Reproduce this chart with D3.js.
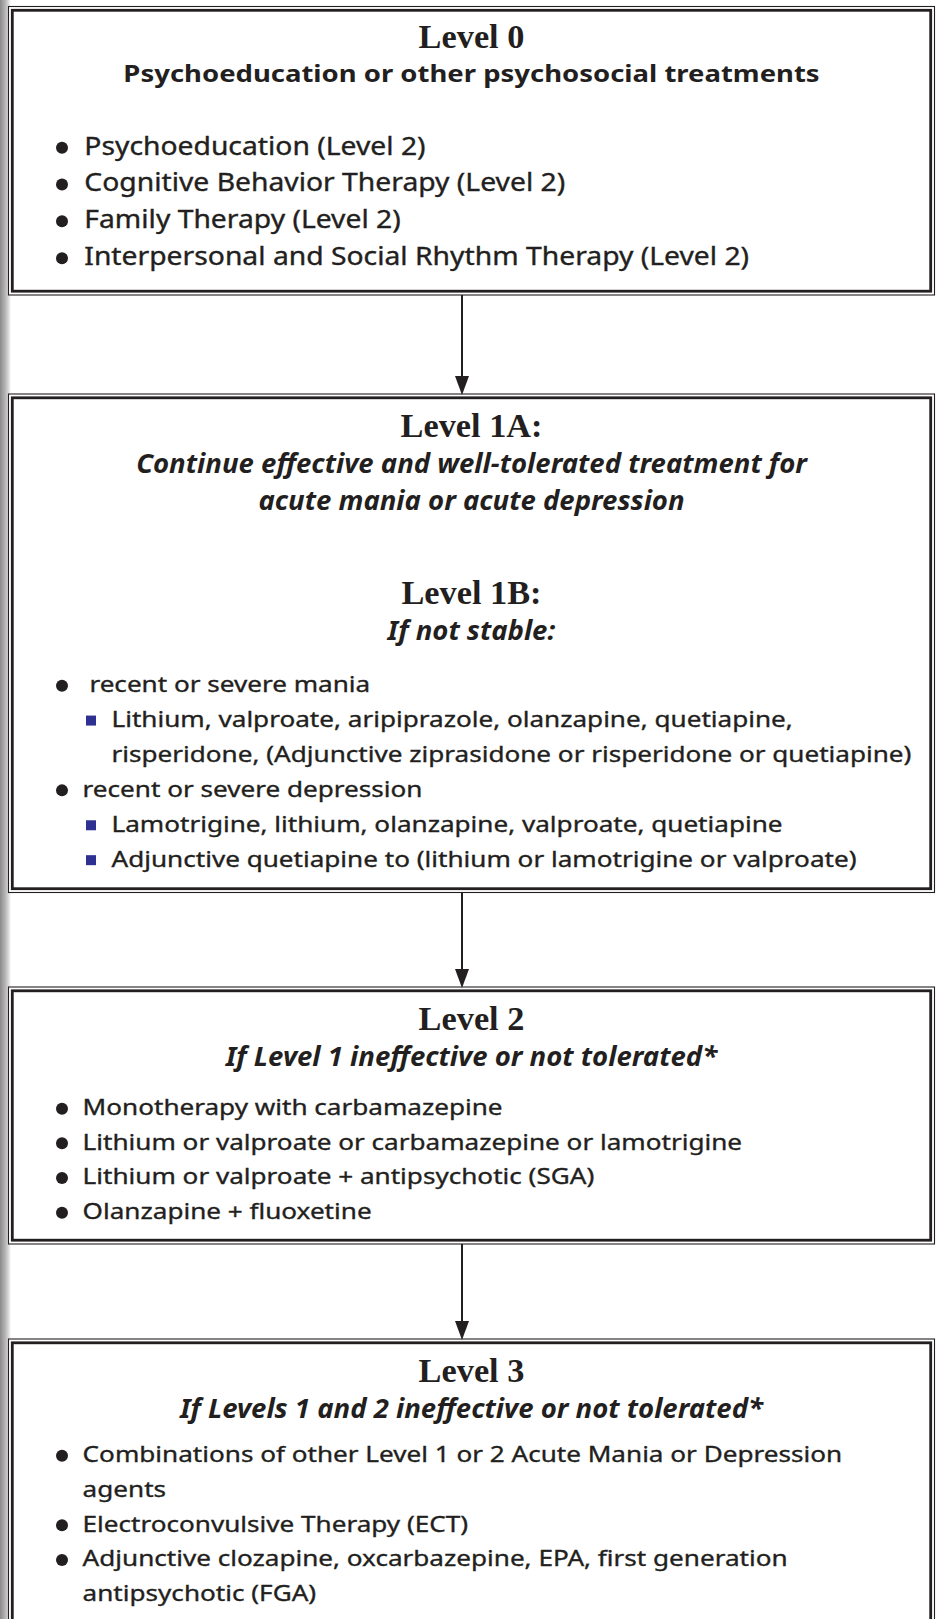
<!DOCTYPE html>
<html><head><meta charset="utf-8">
<script src="https://cdn.jsdelivr.net/npm/d3@7"></script>
<style>html,body{margin:0;padding:0;background:#fff;}svg{display:block;}text{white-space:pre;}</style>
</head><body>
<svg id="chart" width="936" height="1619"></svg>
<script>
// ---------- DATA ----------
const levelTitles = ["Level 0", "Level 1A:", "Level 1B:", "Level 2", "Level 3"];
const level0Subtitle = ["Psychoeducation or other psychosocial treatments"];
const level1ASubtitle = ["Continue effective and well-tolerated treatment for", "acute mania or acute depression"];
const level1BSubtitle = ["If not stable:"];
const level2Subtitle = ["If Level 1 ineffective or not tolerated*"];
const level3Subtitle = ["If Levels 1 and 2 ineffective or not tolerated*"];

const level0Items = ["Psychoeducation (Level 2)", "Cognitive Behavior Therapy (Level 2)", "Family Therapy (Level 2)", "Interpersonal and Social Rhythm Therapy (Level 2)"];
const level0Markers = ["dot", "dot", "dot", "dot"];

const level1Items = [" recent or severe mania",
  "Lithium, valproate, aripiprazole, olanzapine, quetiapine,",
  "risperidone, (Adjunctive ziprasidone or risperidone or quetiapine)",
  "recent or severe depression",
  "Lamotrigine, lithium, olanzapine, valproate, quetiapine",
  "Adjunctive quetiapine to (lithium or lamotrigine or valproate)"];
const level1Markers = ["dot", "square", "none2", "dot", "square", "square"];

const level2Items = ["Monotherapy with carbamazepine", "Lithium or valproate or carbamazepine or lamotrigine", "Lithium or valproate + antipsychotic (SGA)", "Olanzapine + ﬂuoxetine"];
const level2Markers = ["dot", "dot", "dot", "dot"];

const level3Items = ["Combinations of other Level 1 or 2 Acute Mania or Depression", "agents", "Electroconvulsive Therapy (ECT)", "Adjunctive clozapine, oxcarbazepine, EPA, ﬁrst generation", "antipsychotic (FGA)"];
const level3Markers = ["dot", "none1", "dot", "dot", "none1"];

// ---------- LAYOUT / STYLE ----------
const W = 936, H = 1619;
const INK = "#231f20", BLUE = "#2e3192";
const SANS = "'Noto Sans','Open Sans',sans-serif";
const SERIF = "'Liberation Serif','Times New Roman',serif";
const svg = d3.select("#chart");

const boxes = [
  {top: 6.5, bottom: 295},
  {top: 394, bottom: 892.5},
  {top: 987, bottom: 1244},
  {top: 1339, bottom: 1680}
];
const boxL = 8.5, boxR = 934.5, innerOff = 3.8;
const cx = 471.5, arrowX = 462;

// left page shadow
const defs = svg.append("defs");
const grad = defs.append("linearGradient").attr("id", "shade").attr("x1", 0).attr("x2", 1).attr("y1", 0).attr("y2", 0);
grad.append("stop").attr("offset", 0).attr("stop-color", "#8a8a8a");
grad.append("stop").attr("offset", 0.5).attr("stop-color", "#b8b8b8");
grad.append("stop").attr("offset", 0.8).attr("stop-color", "#dedede");
grad.append("stop").attr("offset", 1).attr("stop-color", "#ffffff");
svg.append("rect").attr("x", 0).attr("y", 0).attr("width", 11).attr("height", H).attr("fill", "url(#shade)");

// boxes with double border
const gB = svg.append("g");
gB.selectAll("rect.outer").data(boxes).join("rect").attr("class", "outer")
  .attr("x", boxL).attr("y", d => d.top).attr("width", boxR - boxL).attr("height", d => d.bottom - d.top)
  .attr("fill", "#fff").attr("stroke", INK).attr("stroke-width", 1.1);
gB.selectAll("rect.inner").data(boxes).join("rect").attr("class", "inner")
  .attr("x", boxL + innerOff).attr("y", d => d.top + innerOff).attr("width", boxR - boxL - 2 * innerOff)
  .attr("height", d => d.bottom - d.top - 2 * innerOff)
  .attr("fill", "none").attr("stroke", INK).attr("stroke-width", 2.8);

// arrows
const gA = svg.append("g");
d3.pairs(boxes).forEach(([a, b]) => {
  const ah = 18, aw = 7;
  gA.append("line").attr("x1", arrowX).attr("x2", arrowX).attr("y1", a.bottom).attr("y2", b.top - ah + 2)
    .attr("stroke", INK).attr("stroke-width", 2);
  gA.append("path").attr("d", `M${arrowX - aw},${b.top - ah} L${arrowX + aw},${b.top - ah} L${arrowX},${b.top + 1} Z`)
    .attr("fill", INK);
});

// text helper
function txt(str, x, y, st) {
  return svg.append("text")
    .attr("transform", `translate(${x},${y}) scale(${st.sx},1)`)
    .attr("text-anchor", st.anchor || "start")
    .attr("font-family", st.family).attr("font-size", st.size)
    .attr("font-weight", st.weight || "normal").attr("font-style", st.italic ? "italic" : "normal")
    .attr("fill", INK)
    .attr("stroke", st.stroke ? INK : null).attr("stroke-width", st.stroke || null)
    .text(str);
}
const stTitle = {family: SERIF, size: 33, weight: "bold", sx: 1.04, anchor: "middle"};
const stSub0 = {family: SANS, size: 23.5, weight: "bold", sx: 1.17, anchor: "middle"};
const stSubI = {family: SANS, size: 26.5, weight: "bold", italic: true, sx: 1.04, anchor: "middle"};
const stBody0 = {family: SANS, size: 24.5, sx: 1.155, stroke: 0.35};
const stBody = {family: SANS, size: 22.6, sx: 1.155, stroke: 0.35};

// titles
txt(levelTitles[0], cx, 48, stTitle);
txt(level0Subtitle[0], cx, 82, stSub0);
txt(levelTitles[1], cx, 437, stTitle);
level1ASubtitle.forEach((s, i) => txt(s, cx, 472.5 + i * 37, stSubI));
txt(levelTitles[2], cx, 604, stTitle);
txt(level1BSubtitle[0], cx, 639.5, stSubI);
txt(levelTitles[3], cx, 1030, stTitle);
txt(level2Subtitle[0], cx, 1066, stSubI);
txt(levelTitles[4], cx, 1382, stTitle);
txt(level3Subtitle[0], cx, 1418, stSubI);

// bullet lists
const markerX = {dot: 62, square: 91, none1: 62, none2: 91};
const textX = {dot: 82.6, square: 111.5, none1: 82.6, none2: 111.5};
function list(items, markers, y0, y1, st, firstTextX) {
  const y = d3.scaleLinear().domain([0, items.length - 1]).range([y0, y1]);
  items.forEach((s, i) => {
    const m = markers[i], by = y(i);
    const mid = by - st.size * 0.28;
    if (m === "dot") svg.append("circle").attr("cx", markerX.dot).attr("cy", mid).attr("r", 6).attr("fill", INK);
    if (m === "square") svg.append("rect").attr("x", markerX.square - 5).attr("y", mid - 5).attr("width", 10).attr("height", 10).attr("fill", BLUE);
    txt(s, firstTextX && m === "dot" ? firstTextX : textX[m], by, st);
  });
}
list(level0Items, level0Markers, 154.5, 265, stBody0, 84.3);
list(level1Items, level1Markers, 692, 866.5, stBody);
list(level2Items, level2Markers, 1115, 1219, stBody);
list(level3Items, level3Markers, 1462, 1601, stBody);
</script>
</body></html>
